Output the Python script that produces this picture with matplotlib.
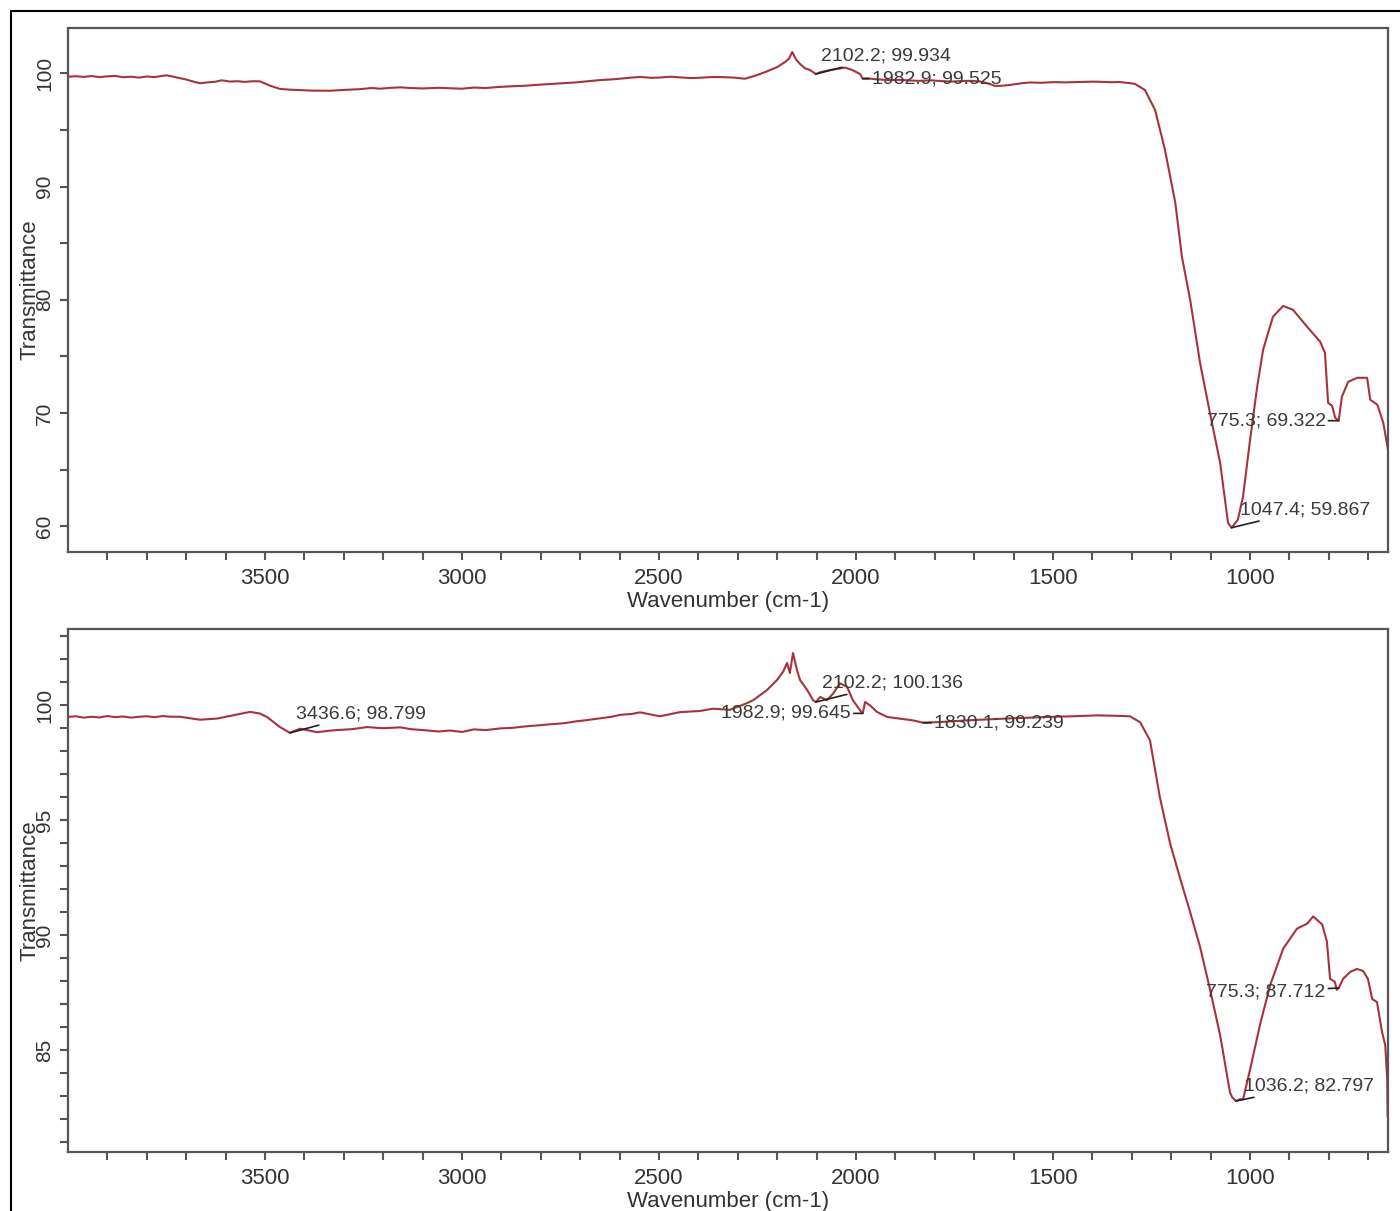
import numpy as np
import matplotlib
matplotlib.use('Agg')
import matplotlib.pyplot as plt
from matplotlib.lines import Line2D
from matplotlib.ticker import FixedLocator

plt.rcParams['font.family'] = ['Liberation Sans', 'DejaVu Sans']

# upper spectrum (wavenumber, transmittance)
wn_top = [4000, 3980, 3960, 3940, 3920, 3900, 3880, 3860, 3840, 3820,
          3800, 3780, 3760, 3749, 3730, 3716, 3700, 3680, 3665, 3645,
          3627, 3610, 3589, 3570, 3551, 3530, 3513, 3500, 3487, 3462,
          3440, 3411, 3380, 3335, 3300, 3259, 3230, 3208, 3180, 3157,
          3130, 3100, 3060, 3031, 3000, 2970, 2940, 2904, 2870, 2840,
          2810, 2777, 2740, 2710, 2680, 2650, 2620, 2600, 2570, 2548,
          2520, 2500, 2470, 2447, 2420, 2400, 2370, 2345, 2310, 2282,
          2255, 2231, 2200, 2180, 2170, 2162, 2152, 2142, 2130, 2117,
          2102, 2090, 2066, 2045, 2028, 2010, 1990, 1983, 1970, 1952,
          1920, 1888, 1860, 1840, 1810, 1787, 1760, 1740, 1710, 1685,
          1660, 1647, 1630, 1609, 1580, 1558, 1530, 1500, 1470, 1432,
          1400, 1380, 1350, 1330, 1310, 1292, 1267, 1241, 1216, 1190,
          1173, 1152, 1127, 1102, 1076, 1056, 1047, 1031, 1018, 1000,
          982, 967, 942, 916, 891, 855, 822, 810, 802, 792,
          784, 775, 767, 751, 728, 703, 695, 677, 662, 650]
tr_top = [99.70, 99.74, 99.68, 99.76, 99.66, 99.73, 99.77, 99.65, 99.70, 99.62,
          99.72, 99.66, 99.78, 99.82, 99.68, 99.58, 99.45, 99.25, 99.12, 99.20,
          99.25, 99.38, 99.27, 99.30, 99.24, 99.30, 99.29, 99.10, 98.90, 98.62,
          98.56, 98.52, 98.47, 98.46, 98.53, 98.60, 98.70, 98.64, 98.72, 98.76,
          98.70, 98.66, 98.72, 98.68, 98.64, 98.74, 98.70, 98.80, 98.86, 98.90,
          98.98, 99.05, 99.12, 99.20, 99.30, 99.40, 99.46, 99.52, 99.62, 99.68,
          99.60, 99.62, 99.70, 99.64, 99.58, 99.60, 99.66, 99.67, 99.62, 99.52,
          99.80, 100.10, 100.55, 101.00, 101.30, 101.88, 101.20, 100.82, 100.45, 100.29,
          99.93, 100.10, 100.29, 100.40, 100.50, 100.30, 99.94, 99.53, 99.55, 99.48,
          99.40, 99.42, 99.36, 99.33, 99.38, 99.32, 99.27, 99.30, 99.34, 99.28,
          99.05, 98.88, 98.90, 98.97, 99.12, 99.19, 99.16, 99.22, 99.20, 99.23,
          99.26, 99.25, 99.21, 99.23, 99.15, 99.06, 98.53, 96.76, 93.23, 88.60,
          83.80, 79.99, 74.43, 70.02, 65.61, 60.31, 59.87, 60.58, 62.61, 67.64,
          72.32, 75.58, 78.50, 79.46, 79.11, 77.61, 76.29, 75.31, 70.90, 70.64,
          69.58, 69.32, 71.44, 72.76, 73.11, 73.11, 71.17, 70.73, 69.14, 66.76]

# lower spectrum
wn_bot = [4000, 3980, 3960, 3940, 3920, 3900, 3880, 3860, 3840, 3820,
          3800, 3780, 3760, 3740, 3716, 3665, 3622, 3581, 3538, 3513,
          3495, 3462, 3437, 3411, 3368, 3327, 3280, 3241, 3200, 3157,
          3130, 3100, 3060, 3031, 3000, 2970, 2940, 2904, 2870, 2840,
          2810, 2777, 2740, 2710, 2680, 2650, 2620, 2600, 2570, 2548,
          2498, 2447, 2396, 2363, 2320, 2277, 2261, 2226, 2201, 2185,
          2175, 2168, 2160, 2150, 2142, 2124, 2109, 2102, 2091, 2074,
          2058, 2041, 2023, 2008, 1990, 1983, 1977, 1965, 1947, 1921,
          1855, 1830, 1787, 1740, 1685, 1620, 1560, 1515, 1450, 1388,
          1340, 1305, 1279, 1254, 1229, 1203, 1178, 1152, 1127, 1102,
          1076, 1051, 1045, 1036, 1025, 1018, 1000, 975, 949, 916,
          881, 855, 840, 817, 805, 797, 785, 780, 775, 764,
          746, 729, 713, 701, 690, 678, 665, 657, 652, 651]
tr_bot = [99.49, 99.52, 99.46, 99.50, 99.47, 99.53, 99.48, 99.51, 99.46, 99.50,
          99.52, 99.48, 99.53, 99.50, 99.50, 99.37, 99.42, 99.56, 99.71, 99.64,
          99.49, 99.05, 98.80, 98.98, 98.83, 98.91, 98.96, 99.05, 99.00, 99.04,
          98.96, 98.92, 98.86, 98.90, 98.84, 98.95, 98.92, 98.99, 99.02, 99.08,
          99.12, 99.17, 99.22, 99.30, 99.36, 99.43, 99.50, 99.58, 99.62, 99.69,
          99.52, 99.70, 99.75, 99.85, 99.80, 100.09, 100.22, 100.66, 101.09, 101.46,
          101.84, 101.40, 102.27, 101.53, 101.09, 100.66, 100.22, 100.14, 100.36, 100.22,
          100.51, 100.95, 100.80, 100.22, 99.78, 99.65, 100.14, 100.00, 99.71, 99.49,
          99.34, 99.24, 99.27, 99.32, 99.37, 99.42, 99.46, 99.49, 99.52, 99.56,
          99.54, 99.52, 99.26, 98.47, 96.00, 94.00, 92.50, 91.00, 89.50, 87.67,
          85.66, 83.17, 82.95, 82.80, 82.88, 82.86, 84.17, 86.10, 87.84, 89.42,
          90.29, 90.51, 90.82, 90.47, 89.72, 88.11, 87.98, 87.63, 87.71, 88.11,
          88.41, 88.54, 88.45, 88.11, 87.23, 87.10, 85.79, 85.22, 83.73, 82.16]

# peak labels: (wavenumber, transmittance, text)
peaks_top = [(2102.2, 99.934, '2102.2; 99.934'), (1982.9, 99.525, '1982.9; 99.525'),
             (775.3, 69.322, '775.3; 69.322'), (1047.4, 59.867, '1047.4; 59.867')]
peaks_bot = [(3436.6, 98.799, '3436.6; 98.799'), (2102.2, 100.136, '2102.2; 100.136'),
             (1982.9, 99.645, '1982.9; 99.645'), (1830.1, 99.239, '1830.1; 99.239'),
             (775.3, 87.712, '775.3; 87.712'), (1036.2, 82.797, '1036.2; 82.797')]
# label offsets in pixels (dx, dy, ha)
offs_top = [(5, 18, 'left'), (9, 0, 'left'), (-13, 0, 'right'), (9, 18, 'left')]
offs_bot = [(6, 19, 'left'), (6, 19, 'left'), (-12, 0, 'right'), (11, 0, 'left'),
            (-13, -4, 'right'), (8, 15, 'left')]

x_major = [3500, 3000, 2500, 2000, 1500, 1000]
x_minor = [3900, 3800, 3700, 3600, 3400, 3300, 3200, 3100, 2900, 2800, 2700,
           2600, 2400, 2300, 2200, 2100, 1900, 1800, 1700, 1600, 1400, 1300,
           1200, 1100, 900, 800, 700]

line_col = '#a8323c'
frame_col = '#555555'
text_col = '#333333'

fig = plt.figure(figsize=(14, 12.11), dpi=100)
ax1 = fig.add_axes([68/1400, 1 - 552.3/1211, 1320/1400, 524.3/1211])
ax2 = fig.add_axes([68/1400, 1 - 1152.3/1211, 1320/1400, 523/1211])


def style(ax, ylim, ymaj, ymin):
    ax.set_xlim(4000, 650)
    ax.set_ylim(*ylim)
    ax.xaxis.set_major_locator(FixedLocator(x_major))
    ax.xaxis.set_minor_locator(FixedLocator(x_minor))
    ax.yaxis.set_major_locator(FixedLocator(ymaj))
    ax.yaxis.set_minor_locator(FixedLocator(ymin))
    for s in ax.spines.values():
        s.set_color(frame_col)
        s.set_linewidth(1.6)
    ax.tick_params(which='both', direction='out', length=6, width=1.5,
                   color=frame_col, labelcolor=text_col)
    ax.tick_params(axis='x', labelsize=16, pad=5)
    ax.tick_params(axis='y', labelsize=15, pad=4)
    for lab in ax.get_yticklabels():
        lab.set_rotation(90)
        lab.set_va('center')
    ax.set_xlabel('Wavenumber (cm-1)', fontsize=16, color=text_col)
    ax.xaxis.set_label_coords(0.5, -0.074)
    ax.set_ylabel('Transmittance', fontsize=16, color=text_col)
    ax.yaxis.set_label_coords(-0.021, 0.5)


def label_peaks(ax, peaks, offs):
    for (x, y, t), (dx, dy, ha) in zip(peaks, offs):
        ax.annotate(t, xy=(x, y), xytext=(dx, dy), textcoords='offset pixels',
                    ha=ha, va='center', fontsize=14, color='#3a3a3a',
                    arrowprops=dict(arrowstyle='-', color='#222222', lw=1.2,
                                    shrinkA=0, shrinkB=0))


ax1.plot(wn_top, tr_top, color=line_col, lw=1.5)
style(ax1, (57.7, 104.0), [60, 70, 80, 90, 100], [65, 75, 85, 95])
label_peaks(ax1, peaks_top, offs_top)

ax2.plot(wn_bot, tr_bot, color=line_col, lw=1.5)
style(ax2, (80.57, 103.3), [85, 90, 95, 100],
      [81, 82, 83, 84, 86, 87, 88, 89, 91, 92, 93, 94, 96, 97, 98, 99, 101, 102, 103])
label_peaks(ax2, peaks_bot, offs_bot)

# outer border of the figure
fig.add_artist(Line2D([11/1400, 1], [1 - 11/1211, 1 - 11/1211], color='black', lw=1.5))
fig.add_artist(Line2D([11/1400, 11/1400], [0, 1 - 11/1211], color='black', lw=1.5))

fig.savefig('out.png', dpi=100)
